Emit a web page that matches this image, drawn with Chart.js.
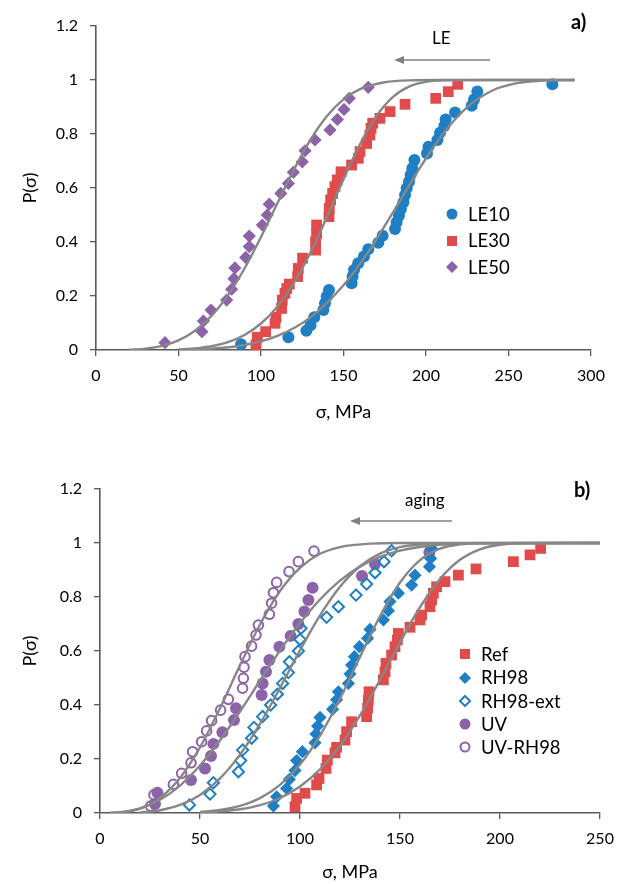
<!DOCTYPE html>
<html><head><meta charset="utf-8">
<script src="https://cdn.jsdelivr.net/npm/chart.js@4.4.0/dist/chart.umd.min.js"></script>
<style>
html,body{margin:0;padding:0;background:#fff;}
body{width:619px;height:884px;position:relative;overflow:hidden;font-family:Lato,'Open Sans',sans-serif;color:#000;}
.wrap{position:absolute;left:0;width:619px;}
#w1{top:0;height:440px;}
#w2{top:440px;height:444px;}
.ann{position:absolute;white-space:nowrap;line-height:1;}
.leg{position:absolute;font-size:18.5px;line-height:1;}
.leg div{position:absolute;white-space:nowrap;display:flex;align-items:center;}
.leg svg{margin-right:9px;}
#ov{position:absolute;left:0;top:0;}
</style></head>
<body>
<div class="wrap" id="w1"><canvas id="c1" width="619" height="440"></canvas></div>
<div class="wrap" id="w2"><canvas id="c2" width="619" height="444"></canvas></div>
<svg id="ov" width="619" height="884">
  <line x1="490" y1="60" x2="402" y2="60" stroke="#808080" stroke-width="1.6"/>
  <polygon points="394,60 404,56 404,64" fill="#808080"/>
  <line x1="452" y1="521" x2="358" y2="521" stroke="#808080" stroke-width="1.6"/>
  <polygon points="350,521 360,517 360,525" fill="#808080"/>
</svg>
<div class="ann" style="left:571px;top:11px;font-size:20px;font-weight:bold;">a)</div>
<div class="ann" style="left:432px;top:29px;font-size:17px;">LE</div>
<div class="ann" style="left:574px;top:479px;font-size:20px;font-weight:bold;">b)</div>
<div class="ann" style="left:405px;top:491px;font-size:17px;">aging</div>
<div class="leg" id="leg1"></div>
<div class="leg" id="leg2"></div>
<script>
const FONT = "Lato, 'Open Sans', sans-serif";
const BLUE = '#1f7fc4', RED = '#e04b4b', PURPLE = '#8c62a8', GRAY = '#878787', AXIS = '#595959';

// ---------- chart a) data ----------
const xTicksA = [0, 50, 100, 150, 200, 250, 300];
const yTicks = [0, 0.2, 0.4, 0.6, 0.8, 1, 1.2];
const yTickLabels = ['0', '0.2', '0.4', '0.6', '0.8', '1', '1.2'];
const seriesA = ['LE10', 'LE30', 'LE50'];

const le10X = [87.9,116.6,127.5,130,132.3,137.8,138.8,139.8,141.2,154.9,155.5,156.4,158.9,162.4,165,171.1,173.7,181.2,182.2,183.6,184.8,186.3,187.3,188.3,189.7,190.7,191.7,193,200.6,201.5,206.9,208.5,211.1,211.9,217.6,227.7,229.1,231.1,276.6];
const le10P = [0.021,0.047,0.071,0.092,0.121,0.148,0.173,0.198,0.222,0.247,0.272,0.296,0.321,0.346,0.373,0.397,0.423,0.448,0.473,0.497,0.522,0.547,0.574,0.599,0.623,0.648,0.673,0.704,0.728,0.753,0.778,0.805,0.83,0.854,0.88,0.905,0.928,0.957,0.984];
const le30X = [97,97.8,102.8,108.5,109.1,112.5,112.9,114.5,115.6,117.2,122.2,122.6,125.2,133.1,133.1,133.7,133.7,141.2,141.4,142.2,143.4,144.8,146.3,148.5,154.9,159,160,164,166,166.7,167.7,172.1,178.2,187.3,205.9,213.5,219.2];
const le30P = [0.019,0.047,0.068,0.099,0.121,0.154,0.185,0.21,0.228,0.244,0.272,0.302,0.34,0.37,0.401,0.432,0.463,0.494,0.525,0.556,0.58,0.605,0.63,0.66,0.685,0.71,0.735,0.765,0.796,0.821,0.84,0.858,0.883,0.91,0.932,0.957,0.984];
const le50X = [41.8,64.2,65.1,69.7,79.2,82.2,83.6,84.2,90.7,92.9,92.9,100.8,103.8,105,112,116.6,119.6,125,126.7,132.7,141.8,146.3,150.3,153.5,165];
const le50P = [0.027,0.068,0.107,0.148,0.185,0.225,0.264,0.304,0.343,0.383,0.422,0.463,0.5,0.54,0.58,0.617,0.658,0.697,0.738,0.778,0.815,0.854,0.891,0.932,0.973];

// fitted curves
const fitLE10X = [50,70,90,110,130,150,165,180,195,210,225,240,255,270,290];
const fitLE10P = [0.0009,0.005,0.0185,0.0523,0.121,0.2395,0.3633,0.5096,0.662,0.7983,0.8997,0.9603,0.9882,0.9975,0.9998];
const fitLE30X = [50,60,70,80,90,100,110,120,130,140,150,160,170,180,190,200,215,240,290];
const fitLE30P = [0.0021,0.0059,0.0139,0.0292,0.0556,0.0981,0.1614,0.2492,0.3615,0.4931,0.6321,0.762,0.8668,0.9377,0.9767,0.9933,0.9995,1,1];
const fitLE50X = [20,30,40,50,60,70,80,90,100,110,120,130,140,150,160,175,190,210,290];
const fitLE50P = [0.001,0.0049,0.0151,0.0357,0.0713,0.1262,0.2032,0.3019,0.4185,0.5444,0.6684,0.7787,0.8665,0.9283,0.9663,0.9918,0.9987,0.9999,1];

// ---------- chart b) data ----------
const xTicksB = [0, 50, 100, 150, 200, 250];
const seriesB = ['Ref', 'RH98', 'RH98-ext', 'UV', 'UV-RH98'];

const refX = [97.5,98.3,102.5,108.3,109.5,113,113.7,117.5,118.3,122.5,123.3,125.8,133.3,133.8,134.2,134.5,141.7,142.5,143,145.8,147.5,148.7,149.2,155,160,160.8,165,165.8,166.7,168.3,172.5,179.2,188,206.7,215,220.3];
const refP = [0.023,0.054,0.073,0.104,0.128,0.165,0.196,0.223,0.243,0.27,0.301,0.338,0.357,0.388,0.419,0.449,0.493,0.523,0.554,0.585,0.616,0.641,0.665,0.688,0.715,0.733,0.764,0.789,0.814,0.838,0.857,0.881,0.904,0.931,0.956,0.98];
const rh98X = [86.7,88.3,93.3,94.7,97.5,98.3,101.2,107.5,108,108.8,110,116.3,118.3,119.2,124.2,125,125.8,127.2,129.7,133.8,135,141.7,144.2,145,149.2,155.8,157.5,164.7,165.3,165.8];
const rh98P = [0.026,0.06,0.091,0.125,0.157,0.194,0.227,0.26,0.293,0.322,0.354,0.384,0.419,0.449,0.48,0.515,0.548,0.579,0.616,0.647,0.68,0.715,0.749,0.783,0.814,0.844,0.881,0.912,0.943,0.98];
const rh98extX = [44.7,55,56.7,69.2,70.3,71.3,75.8,77,81.3,85.3,88.7,91.3,94.2,94.7,99.2,100,100.5,113.3,119.2,128,133.3,137.5,142,145.8];
const rh98extP = [0.03,0.07,0.112,0.153,0.194,0.233,0.277,0.317,0.357,0.4,0.44,0.48,0.52,0.56,0.6,0.643,0.684,0.725,0.764,0.807,0.848,0.89,0.931,0.971];
const uvX = [27.5,28.7,45.5,52.5,55.5,56.7,61.2,67,68,80.8,81.3,83,84.7,89.7,95.3,99.2,102.2,104.2,106.3,131,137.5,164.7];
const uvP = [0.033,0.075,0.122,0.165,0.211,0.256,0.299,0.344,0.388,0.437,0.48,0.523,0.567,0.616,0.656,0.7,0.746,0.789,0.834,0.878,0.922,0.966];
const uvrhX = [25.3,27,36.7,40.8,45.5,46.3,50.8,53.3,55.8,60.3,64.2,71.3,71.7,72,72.5,75.8,78,79.2,84.7,85.8,86.7,88.3,94.5,99.2,107];
const uvrhP = [0.026,0.067,0.106,0.147,0.186,0.227,0.264,0.304,0.342,0.381,0.421,0.462,0.499,0.54,0.579,0.618,0.659,0.696,0.736,0.777,0.816,0.854,0.894,0.931,0.97];

const fitRefX = [50,60,70,80,90,100,110,120,130,140,150,160,170,180,190,200,215,250];
const fitRefP = [0.0021,0.0059,0.0139,0.0292,0.0556,0.0981,0.1614,0.2492,0.3615,0.4931,0.6321,0.762,0.8668,0.9377,0.9767,0.9933,0.9995,1];
const fitRh98X = [50,60,70,80,90,100,110,120,130,140,150,160,170,180,190,250];
const fitRh98P = [0.0041,0.0113,0.0265,0.0553,0.1041,0.1799,0.287,0.4234,0.5776,0.7289,0.8535,0.9366,0.9792,0.9952,0.9993,1];
const fitRh98extX = [20,30,40,50,60,70,80,90,100,110,120,130,140,150,165,180,250];
const fitRh98extP = [0.0023,0.0103,0.0298,0.0671,0.1282,0.2163,0.3304,0.4634,0.6024,0.7317,0.838,0.914,0.9606,0.9848,0.9974,0.9997,1];
const fitUvX = [5,10,20,30,40,50,60,70,80,90,100,110,120,130,140,150,165,180,200,250];
const fitUvP = [0.0004,0.0027,0.017,0.0488,0.1017,0.176,0.2695,0.376,0.4898,0.6012,0.7034,0.7909,0.8607,0.9126,0.9484,0.9716,0.9898,0.9969,0.9995,1];
const fitUvrhX = [5,10,15,20,25,30,40,50,60,70,80,90,100,110,120,135,150,250];
const fitUvrhP = [0.0002,0.0019,0.0066,0.0161,0.032,0.0556,0.13,0.243,0.388,0.547,0.698,0.822,0.908,0.96,0.985,0.9977,0.9998,1];

// ---------- helpers ----------
const pts = (xs, ps) => xs.map((x, i) => ({x: x, y: ps[i]}));
function markerDs(label, xs, ps, style) {
  return Object.assign({label: label, data: pts(xs, ps), showLine: false, order: 2}, style);
}
function curveDs(xs, ps) {
  return {label: '', data: pts(xs, ps), showLine: true, pointRadius: 0, borderColor: GRAY,
          borderWidth: 2.4, cubicInterpolationMode: 'monotone', fill: false, order: 1};
}
const styles = {
  circle:    c => ({pointStyle: 'circle', pointRadius: 6, backgroundColor: c, borderColor: c, pointBorderWidth: 0}),
  square:    c => ({pointStyle: 'rect', pointRadius: 7.6, backgroundColor: c, borderColor: c, pointBorderWidth: 0}),
  diamond:   c => ({pointStyle: 'rectRot', pointRadius: 6.6, backgroundColor: c, borderColor: c, pointBorderWidth: 0}),
  odiamond:  c => ({pointStyle: 'rectRot', pointRadius: 5.6, backgroundColor: 'rgba(255,255,255,0)', borderColor: c, pointBorderWidth: 2}),
  ocircle:   c => ({pointStyle: 'circle', pointRadius: 4.8, backgroundColor: 'rgba(255,255,255,0)', borderColor: c, pointBorderWidth: 2})
};

function scalesFor(xTicks, xMax, yWidth, xHeight, titlePadX, titlePadY) {
  const tickFont = {family: FONT, size: 16};
  const titleFont = {family: FONT, size: 18};
  return {
    x: {
      type: 'linear', min: 0, max: xMax,
      afterBuildTicks: s => { s.ticks = xTicks.map(v => ({value: v})); },
      ticks: {color: '#000', font: tickFont, padding: 10, maxRotation: 0},
      grid: {drawOnChartArea: false, drawTicks: true, tickLength: 6, color: AXIS, lineWidth: 1.3},
      border: {display: true, color: AXIS, width: 1.6},
      title: {display: true, text: 'σ, MPa', color: '#000', font: titleFont, padding: {top: 0, bottom: titlePadX}},
      afterFit: s => { s.height = xHeight; s.paddingLeft = 0; s.paddingRight = 0; }
    },
    y: {
      type: 'linear', min: 0, max: 1.2,
      afterBuildTicks: s => { s.ticks = yTicks.map(v => ({value: v})); },
      ticks: {color: '#000', font: tickFont, padding: 12, callback: (v, i) => yTickLabels[i]},
      grid: {drawOnChartArea: false, drawTicks: true, tickLength: 6, color: AXIS, lineWidth: 1.3},
      border: {display: true, color: AXIS, width: 1.6},
      title: {display: true, text: 'P(σ)', color: '#000', font: titleFont, padding: {top: titlePadY, bottom: 0}},
      afterFit: s => { s.width = yWidth; }
    }
  };
}
const baseOpts = {responsive: false, animation: false, events: [],
  plugins: {legend: {display: false}, tooltip: {enabled: false}}};

// ---------- chart a ----------
new Chart(document.getElementById('c1'), {
  type: 'scatter',
  data: {datasets: [
    curveDs(fitLE10X, fitLE10P), curveDs(fitLE30X, fitLE30P), curveDs(fitLE50X, fitLE50P),
    markerDs(seriesA[0], le10X, le10P, styles.circle(BLUE)),
    markerDs(seriesA[1], le30X, le30P, styles.square(RED)),
    markerDs(seriesA[2], le50X, le50P, styles.diamond(PURPLE))
  ]},
  options: Object.assign({}, baseOpts, {
    layout: {padding: {left: 0, right: 28, top: 26, bottom: 0}},
    scales: scalesFor(xTicksA, 300, 96, 90, 17, 19)
  })
});

// ---------- chart b ----------
new Chart(document.getElementById('c2'), {
  type: 'scatter',
  data: {datasets: [
    curveDs(fitRefX, fitRefP), curveDs(fitRh98X, fitRh98P), curveDs(fitRh98extX, fitRh98extP),
    curveDs(fitUvX, fitUvP), curveDs(fitUvrhX, fitUvrhP),
    markerDs(seriesB[0], refX, refP, styles.square(RED)),
    markerDs(seriesB[1], rh98X, rh98P, styles.diamond(BLUE)),
    markerDs(seriesB[2], rh98extX, rh98extP, styles.odiamond(BLUE)),
    markerDs(seriesB[3], uvX, uvP, styles.circle(PURPLE)),
    markerDs(seriesB[4], uvrhX, uvrhP, styles.ocircle(PURPLE))
  ]},
  options: Object.assign({}, baseOpts, {
    layout: {padding: {left: 0, right: 19, top: 49, bottom: 0}},
    scales: scalesFor(xTicksB, 250, 100, 71, 1, 19)
  })
});

// ---------- legends (HTML) ----------
function markerSvg(kind, c) {
  const s = 14, h = 7;
  let shape = '';
  if (kind === 'circle') shape = `<circle cx="${h}" cy="${h}" r="5.5" fill="${c}"/>`;
  if (kind === 'square') shape = `<rect x="2" y="2" width="10" height="10" fill="${c}"/>`;
  if (kind === 'diamond') shape = `<polygon points="${h},1 13,${h} ${h},13 1,${h}" fill="${c}"/>`;
  if (kind === 'odiamond') shape = `<polygon points="${h},2 12,${h} ${h},12 2,${h}" fill="none" stroke="${c}" stroke-width="2"/>`;
  if (kind === 'ocircle') shape = `<circle cx="${h}" cy="${h}" r="4.5" fill="none" stroke="${c}" stroke-width="2"/>`;
  return `<svg width="${s}" height="${s}">${shape}</svg>`;
}
function buildLegend(id, labels, kinds, colors, left, top, step) {
  const el = document.getElementById(id);
  el.style.left = left + 'px'; el.style.top = top + 'px';
  labels.forEach((lab, i) => {
    const d = document.createElement('div');
    d.style.top = (i * step) + 'px';
    d.innerHTML = markerSvg(kinds[i], colors[i]) + '<span>' + lab + '</span>';
    el.appendChild(d);
  });
}
buildLegend('leg1', seriesA, ['circle', 'square', 'diamond'], [BLUE, RED, PURPLE], 445, 205, 26.3);
buildLegend('leg2', seriesB, ['square', 'diamond', 'odiamond', 'circle', 'ocircle'], [RED, BLUE, BLUE, PURPLE, PURPLE], 458, 645, 23.3);
</script>
</body></html>
